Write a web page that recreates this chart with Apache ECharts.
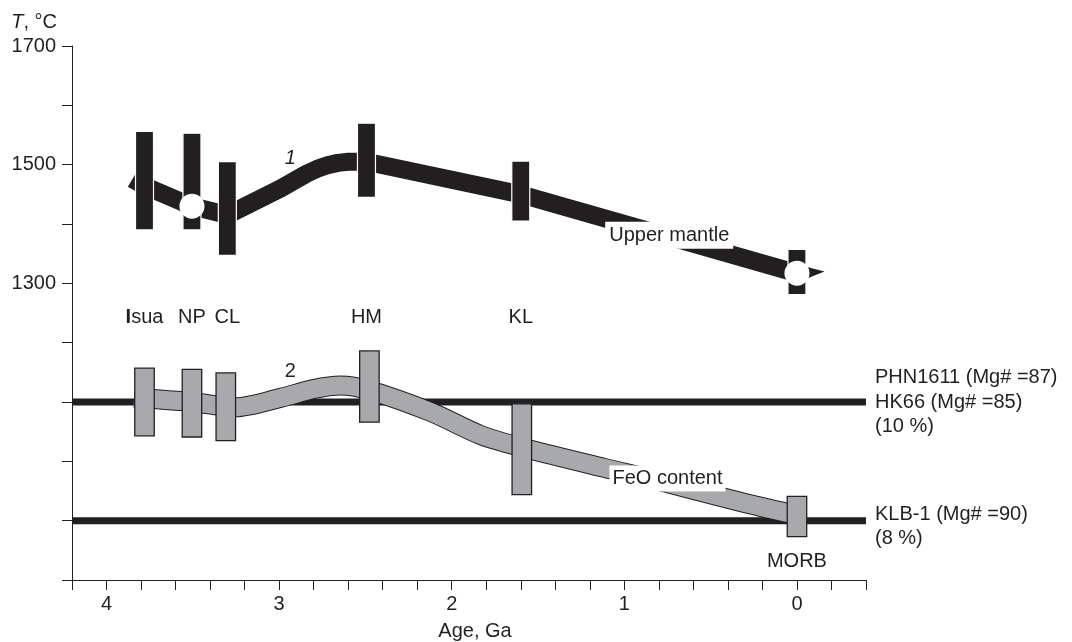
<!DOCTYPE html>
<html>
<head>
<meta charset="utf-8">
<script src="https://cdn.jsdelivr.net/npm/echarts@6/dist/echarts.min.js"></script>
<style>
html,body{margin:0;padding:0;background:#fff;}
#chart{width:1072px;height:642px;}
</style>
</head>
<body>
<div id="chart"></div>
<script>
// ---- data ----
const siteNames = ['Isua', 'NP', 'CL', 'HM', 'KL'];
const siteAges = [3.78, 3.505, 3.30, 2.494, 1.6];
const siteLabelT = 1242;

// curve 1: upper mantle temperature
const mantleBarAges = [3.78, 3.505, 3.30, 2.494, 1.6, 0];
const mantleBarLow = [1390, 1390, 1347, 1445, 1405, 1281];
const mantleBarHigh = [1556, 1553, 1505, 1570, 1506, 1357];
const mantleLineAges = [3.85, 3.78, 3.505, 3.30, 2.99, 2.84, 2.78, 2.72, 2.66, 2.60, 2.494, 1.6, 0];
const mantleLineT = [1476, 1464, 1430, 1415, 1460, 1485, 1493, 1499, 1503, 1505, 1505, 1450, 1317];
const mantleCircleAges = [3.505, 0];
const mantleCircleT = [1430, 1317];
const mantleTipBase = [0, 1317];
const mantleTipEnd = [-0.16, 1320];

// curve 2: FeO content
const feoBoxAges = [3.78, 3.505, 3.309, 2.477, 1.594, 0];
const feoBoxLow = [1043, 1041, 1035, 1066, 944, 873];
const feoBoxHigh = [1157, 1155, 1149, 1186, 1097, 941];
const feoLineAges = [3.84, 3.73, 3.505, 3.31, 3.255, 2.99, 2.80, 2.645, 2.48, 2.12, 1.83, 1.6, 1.117, 0.84, 0.32, 0.04];
const feoLineT = [1107, 1105, 1100, 1092, 1091, 1107, 1122, 1128, 1120, 1083, 1044, 1024, 989, 970, 931, 912];

// reference compositions
const refT = [1100, 900];
const refLabels = ['PHN1611 (Mg# =87)\nHK66 (Mg# =85)\n(10 %)', 'KLB-1 (Mg# =90)\n(8 %)'];

// annotations
const noteTexts = ['1', '2', 'Upper mantle', 'FeO content', 'MORB'];
const noteAges = [2.935, 2.935, 0.74, 0.75, 0];
const noteT = [1510, 1151, 1381, 971, 831];

// axes
const xMin = -0.4, xMax = 4.2, xStep = 0.2;
const yMin = 800, yMax = 1700, yStep = 100;
const yLabelValues = [1300, 1500, 1700];

// ---- chart ----
const INK = '#231f20';
const GRAY = '#a7a9ac';
const FONT = "'Liberation Sans', Arial, sans-serif";
const FS = 20;

const zip = (a, b) => a.map((v, i) => [v, b[i]]);

function barItem(color, stroke, lw, w) {
  return function (params, api) {
    const x = api.value(0);
    const p1 = api.coord([x, api.value(2)]);
    const p2 = api.coord([x, api.value(1)]);
    return {
      type: 'rect',
      shape: { x: p1[0] - w / 2, y: p1[1], width: w, height: p2[1] - p1[1] },
      style: { fill: color, stroke: stroke, lineWidth: lw }
    };
  };
}

const chart = echarts.init(document.getElementById('chart'), null, { renderer: 'canvas' });

const noteStyles = [
  { fontStyle: 'italic' },
  {},
  { backgroundColor: '#fff', padding: [4, 4, 3, 4] },
  { backgroundColor: '#fff', padding: [3, 3, 3, 3] },
  {}
];

const option = {
  animation: false,
  backgroundColor: '#fff',
  textStyle: { fontFamily: FONT, color: INK },
  grid: { left: 72, right: 206, top: 46, bottom: 62, containLabel: false, outerBoundsMode: 'none' },
  xAxis: {
    type: 'value', inverse: true, min: xMin, max: xMax, interval: xStep,
    name: 'Age, Ga', nameLocation: 'middle', nameGap: 41,
    nameTextStyle: { fontSize: FS, color: INK, fontFamily: FONT, padding: [0, 0, 0, 12] },
    axisLine: { show: true, onZero: false, lineStyle: { color: INK, width: 1 } },
    axisTick: { show: true, length: 10, lineStyle: { color: INK, width: 1 } },
    axisLabel: {
      fontSize: FS, color: INK, fontFamily: FONT, margin: 14,
      showMinLabel: true, showMaxLabel: true,
      formatter: v => Math.abs(v - Math.round(v)) < 1e-6 ? String(Math.abs(Math.round(v))) : ''
    },
    splitLine: { show: false }
  },
  yAxis: {
    type: 'value', min: yMin, max: yMax, interval: yStep,
    name: '{i|T}, °C', nameLocation: 'end', nameGap: 14,
    nameTextStyle: {
      fontSize: FS, color: INK, fontFamily: FONT, align: 'right', padding: [0, 15, 0, 0],
      rich: { i: { fontStyle: 'italic', fontSize: FS, fontFamily: FONT, color: INK } }
    },
    axisLine: { show: true, onZero: false, lineStyle: { color: INK, width: 1 } },
    axisTick: { show: true, length: 10, lineStyle: { color: INK, width: 1 } },
    axisLabel: {
      fontSize: FS, color: INK, fontFamily: FONT, margin: 16,
      formatter: v => yLabelValues.indexOf(Math.round(v)) >= 0 ? String(Math.round(v)) : ''
    },
    splitLine: { show: false }
  },
  series: [
    // reference horizontal lines
    ...refT.map((t, i) => ({
      type: 'line', z: 1, silent: true, symbol: 'none',
      data: [[xMax, t], [xMin, t]],
      lineStyle: { color: INK, width: 7, cap: 'butt' },
      endLabel: {
        show: true, formatter: refLabels[i], distance: 9, offset: [18, i === 1 ? 6 : 0],
        fontSize: FS, lineHeight: 24.5, color: INK, fontFamily: FONT, align: 'left', verticalAlign: 'middle'
      }
    })),
    // FeO band outline
    {
      type: 'line', z: 2, silent: true, symbol: 'none', smooth: 0.3,
      data: zip(feoLineAges, feoLineT),
      lineStyle: { color: INK, width: 20, cap: 'butt', join: 'round' }
    },
    // FeO band fill
    {
      type: 'line', z: 3, silent: true, symbol: 'none', smooth: 0.3,
      data: zip(feoLineAges, feoLineT),
      lineStyle: { color: GRAY, width: 18, cap: 'butt', join: 'round' }
    },
    // FeO boxes
    {
      type: 'custom', z: 4, silent: true,
      renderItem: barItem(GRAY, INK, 1.3, 19.5),
      data: feoBoxAges.map((a, i) => [a, feoBoxLow[i], feoBoxHigh[i]])
    },
    // mantle band
    {
      type: 'line', z: 2, silent: true, symbol: 'none', smooth: false,
      data: zip(mantleLineAges, mantleLineT),
      lineStyle: { color: INK, width: 18, cap: 'butt', join: 'round' }
    },
    // mantle band tip
    {
      type: 'custom', z: 2, silent: true,
      renderItem: function (params, api) {
        const b = api.coord([api.value(0), api.value(1)]);
        const t = api.coord([api.value(2), api.value(3)]);
        const dx = t[0] - b[0], dy = t[1] - b[1];
        const L = Math.hypot(dx, dy) || 1;
        const nx = -dy / L * 9, ny = dx / L * 9;
        return {
          type: 'polygon',
          shape: { points: [[b[0] + nx, b[1] + ny], [t[0], t[1]], [b[0] - nx, b[1] - ny]] },
          style: { fill: INK }
        };
      },
      data: [[mantleTipBase[0], mantleTipBase[1], mantleTipEnd[0], mantleTipEnd[1]]]
    },
    // mantle bars
    {
      type: 'custom', z: 4, silent: true,
      renderItem: barItem(INK, '#fff', 1.2, 18),
      data: mantleBarAges.map((a, i) => [a, mantleBarLow[i], mantleBarHigh[i]])
    },
    // circles
    {
      type: 'scatter', z: 5, silent: true, symbol: 'circle', symbolSize: 25,
      itemStyle: { color: '#fff', borderWidth: 0, opacity: 1 },
      data: zip(mantleCircleAges, mantleCircleT)
    },
    // site labels
    {
      type: 'scatter', z: 6, silent: true, symbolSize: 0,
      itemStyle: { opacity: 1 },
      label: {
        show: true, position: 'inside', fontSize: FS, color: INK, fontFamily: FONT,
        formatter: p => p.name === 'Isua' ? '{b|I}sua' : p.name,
        rich: { b: { fontWeight: 'bold', fontSize: FS, fontFamily: FONT, color: INK } }
      },
      data: siteNames.map((n, i) => ({ name: n, value: [siteAges[i], siteLabelT] }))
    },
    // annotations
    {
      type: 'scatter', z: 7, silent: true, symbolSize: 0,
      itemStyle: { opacity: 1 },
      label: { show: true, position: 'inside', fontSize: FS, color: INK, fontFamily: FONT, formatter: p => p.name },
      data: noteTexts.map((n, i) => ({
        name: n, value: [noteAges[i], noteT[i]],
        label: Object.assign({ show: true, position: 'inside', fontSize: FS, color: INK, fontFamily: FONT, formatter: n }, noteStyles[i])
      }))
    }
  ]
};

chart.setOption(option);
</script>
</body>
</html>
